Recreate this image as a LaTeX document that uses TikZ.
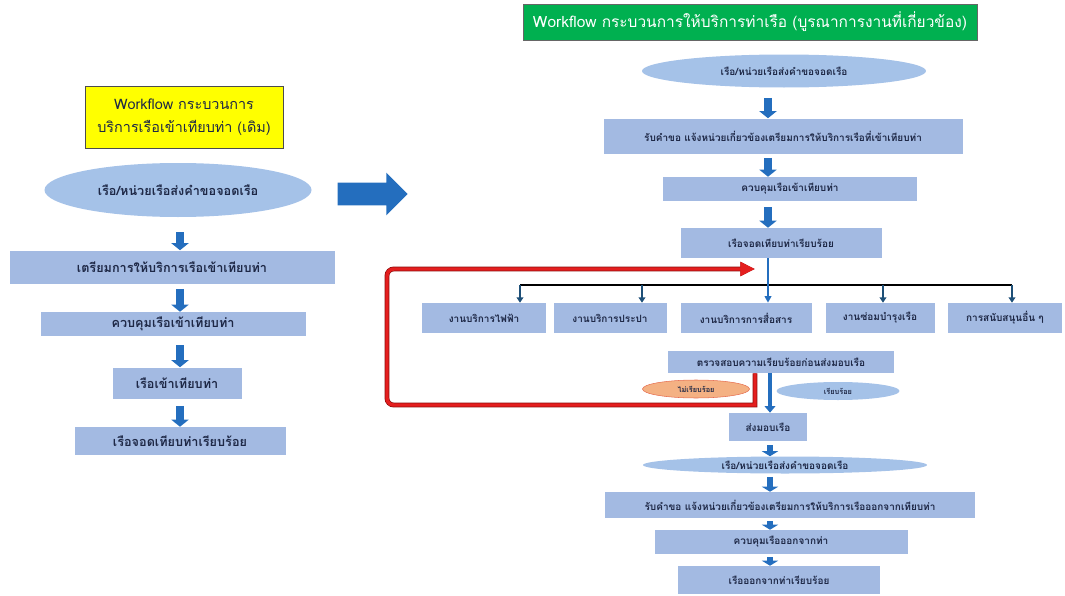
\documentclass[tikz,border=0pt]{standalone}
\usepackage{fontspec}
\setmainfont[Script=Thai]{Loma}
\usetikzlibrary{arrows.meta,positioning,shapes.geometric,shapes.arrows}
\definecolor{boxblue}{RGB}{163,186,226}
\definecolor{ovalblue}{RGB}{165,194,232}
\definecolor{textnavy}{RGB}{30,40,70}
\definecolor{arrowblue}{RGB}{36,110,190}
\definecolor{dropnavy}{RGB}{30,80,120}
\definecolor{titlegreen}{RGB}{0,176,80}
\definecolor{titleyellow}{RGB}{255,255,0}
\definecolor{salmon}{RGB}{244,177,131}
\definecolor{salmonedge}{RGB}{230,110,80}
\definecolor{loopred}{RGB}{228,30,30}
\definecolor{loopdark}{RGB}{140,10,10}
\newcommand{\pu}{0.75pt}

\begin{document}
\begin{tikzpicture}[x=0.75pt,y=-0.75pt]
\tikzset{
  wh/.style 2 args={minimum width=#1*\pu,minimum height=#2*\pu},
  stepbox/.style={rectangle,fill=boxblue,inner sep=0pt,text=textnavy},
  stepoval/.style={ellipse,fill=ovalblue,inner sep=0pt,text=textnavy},
  bigtext/.style={font=\fontsize{9.5}{11}\selectfont\bfseries},
  smalltext/.style={font=\fontsize{7.5}{9}\selectfont\bfseries},
  tinytext/.style={font=\fontsize{5.5}{6}\selectfont\bfseries},
  blockarrow/.style={draw=arrowblue,line width=6pt,-{Triangle[length=5.25pt,width=12.75pt]},shorten <=#1*\pu},
  flatarrow/.style={draw=arrowblue,line width=5pt,-{Triangle[length=3.75pt,width=12pt]},shorten <=#1*\pu},
  busline/.style={draw=black,line width=2.2pt},
  dropline/.style={draw=dropnavy,line width=2pt,-{Triangle[length=4pt,width=5pt]}},
  feedline/.style={draw=arrowblue,line width=2.2pt,-{Triangle[length=5pt,width=5pt]}},
  redloop/.style={draw=loopred,line width=2.6pt,
    preaction={draw=loopdark,line width=3.6pt},-{Triangle[length=11pt,width=10pt]}}
}
\useasboundingbox (0,0) rectangle (1065,596);

% old workflow
\node[rectangle,draw=black!70,fill=titleyellow,wh={198}{62},align=center,
  font=\fontsize{10.8}{17}\selectfont,text=textnavy] (n_ltitle) at (184,117)
  {Workflow กระบวนการ\\บริการเรือเข้าเทียบท่า (เดิม)};
\node[stepoval,wh={267}{54},bigtext] (n_l0) at (178,190) {เรือ/หน่วยเรือส่งคำขอจอดเรือ};
\node[stepbox,wh={325}{33},bigtext] (n_l1) at (172,267) {เตรียมการให้บริการเรือเข้าเทียบท่า};
\node[stepbox,wh={265}{24},bigtext] (n_l2) at (173,324) {ควบคุมเรือเข้าเทียบท่า};
\node[stepbox,wh={129}{31},bigtext] (n_l3) at (177,383) {เรือเข้าเทียบท่า};
\node[stepbox,wh={211}{28},bigtext] (n_l4) at (180,441) {เรือจอดเทียบท่าเรียบร้อย};
\coordinate (c_lcol) at (180,0);
\draw[blockarrow=15] (c_lcol |- n_l0.south) -- (c_lcol |- n_l1.north);
\draw[blockarrow=5] (c_lcol |- n_l1.south) -- (c_lcol |- n_l2.north);
\draw[blockarrow=9] (c_lcol |- n_l2.south) -- (c_lcol |- n_l3.north);
\draw[blockarrow=7] (c_lcol |- n_l3.south) -- (c_lcol |- n_l4.north);

% big arrow to the new workflow
\node[single arrow,fill=arrowblue,inner sep=8.25pt,minimum width=31.5pt,
  single arrow head extend=7.5pt,minimum height=52.5pt] (n_go) at (367,194) {};

% new workflow
\node[rectangle,draw=black!60,fill=titlegreen,wh={454}{36},text=white,
  font=\fontsize{11.6}{13}\selectfont] (n_rtitle) at (750,22)
  {Workflow กระบวนการให้บริการท่าเรือ (บูรณาการงานที่เกี่ยวข้อง)};
\node[stepoval,wh={284}{33},smalltext] (n_r0) at (784,71) {เรือ/หน่วยเรือส่งคำขอจอดเรือ};
\node[stepbox,wh={359}{35},smalltext] (n_r1) at (783,136) {รับคำขอ แจ้งหน่วยเกี่ยวข้องเตรียมการให้บริการเรือที่เข้าเทียบท่า};
\node[stepbox,wh={254}{24},smalltext] (n_r2) at (790,189) {ควบคุมเรือเข้าเทียบท่า};
\node[stepbox,wh={201}{30},smalltext] (n_r3) at (781,243) {เรือจอดเทียบท่าเรียบร้อย};
\coordinate (c_rcol) at (768,0);
\draw[blockarrow=10] (c_rcol |- n_r0.south) -- (c_rcol |- n_r1.north);
\draw[blockarrow=4] (c_rcol |- n_r1.south) -- (c_rcol |- n_r2.north);
\draw[blockarrow=6] (c_rcol |- n_r2.south) -- (c_rcol |- n_r3.north);

% related services
\node[stepbox,wh={124}{30},smalltext] (n_s1) at (484,318) {งานบริการไฟฟ้า};
\node[stepbox,wh={113}{30},smalltext] (n_s2) at (610,318) {งานบริการประปา};
\node[stepbox,wh={131}{30},smalltext] (n_s3) at (746,318) {งานบริการการสื่อสาร};
\node[stepbox,wh={109}{30},smalltext] (n_s4) at (880,318) {งานซ่อมบำรุงเรือ};
\node[stepbox,wh={114}{30},smalltext] (n_s5) at (1005,318) {การสนับสนุนอื่น ๆ};
\coordinate (c_d1) at (520,285);
\coordinate (c_d2) at (642,285);
\coordinate (c_d4) at (883,285);
\coordinate (c_d5) at (1012,285);
\draw[busline] (c_d1) -- (c_d5);
\draw[dropline] (c_d1) -- (c_d1 |- n_s1.north);
\draw[dropline] (c_d2) -- (c_d2 |- n_s2.north);
\draw[dropline] (c_d4) -- (c_d4 |- n_s4.north);
\draw[dropline] (c_d5) -- (c_d5 |- n_s5.north);
\draw[feedline] (c_rcol |- n_r3.south) -- (c_rcol |- n_s3.north);

% check and hand over
\node[stepbox,wh={226}{22},smalltext] (n_chk) at (781,362) {ตรวจสอบความเรียบร้อยก่อนส่งมอบเรือ};
\node[ellipse,fill=salmon,draw=salmonedge,inner sep=0pt,wh={107}{18},tinytext,text=textnavy] (n_bad) at (696,389) {ไม่เรียบร้อย};
\node[stepoval,wh={123}{18},tinytext] (n_ok) at (838,391) {เรียบร้อย};
\node[stepbox,wh={78}{28},smalltext] (n_r9) at (768,427) {ส่งมอบเรือ};
\coordinate (c_lcorner) at (387,405);
\coordinate (c_rmid) at (600,405);
\coordinate (c_rtip) at (755,269);
\draw[redloop] (c_rtip |- n_chk.south) -- (c_rtip |- c_lcorner) -- (c_rmid)
  [rounded corners=5pt] -- (c_lcorner) |- (c_rtip);
\coordinate (c_lowcol) at (770,0);
\draw[feedline,line width=3.5pt,-{Triangle[length=5pt,width=8pt]}] (c_lowcol |- n_chk.south) -- (c_lowcol |- n_r9.north);

% leaving the berth
\node[stepoval,wh={284}{17},smalltext] (n_r10) at (785,465) {เรือ/หน่วยเรือส่งคำขอจอดเรือ};
\node[stepbox,wh={370}{26},smalltext] (n_r11) at (790,505) {รับคำขอ แจ้งหน่วยเกี่ยวข้องเตรียมการให้บริการเรือออกจากเทียบท่า};
\node[stepbox,wh={253}{24},smalltext] (n_r12) at (781,542) {ควบคุมเรือออกจากท่า};
\node[stepbox,wh={202}{28},smalltext] (n_r13) at (779,580) {เรือออกจากท่าเรียบร้อย};
\draw[flatarrow=4] (c_lowcol |- n_r9.south) -- (c_lowcol |- n_r10.north);
\draw[flatarrow=3] (c_lowcol |- n_r10.south) -- (c_lowcol |- n_r11.north);
\draw[flatarrow=3] (c_lowcol |- n_r11.south) -- (c_lowcol |- n_r12.north);
\draw[flatarrow=3] (c_lowcol |- n_r12.south) -- (c_lowcol |- n_r13.north);
\end{tikzpicture}
\end{document}
